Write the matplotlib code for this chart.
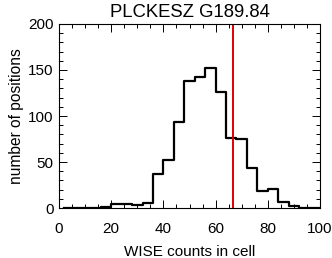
import numpy as np
import matplotlib
matplotlib.use("Agg")
import matplotlib.pyplot as plt
from matplotlib.ticker import MultipleLocator

# ==== данные ==== #
bin_width = 4
bin_centers = np.arange(2, 100, bin_width)          # 2, 6, ..., 98
counts = [0, 0, 0, 0, 1, 4, 4, 3, 5, 37, 52, 93, 138,
          142, 152, 126, 76, 75, 43, 18, 21, 7, 2, 0, 0]
red_line_x = 66.8
title = "PLCKESZ G189.84"

plt.rcParams["font.family"] = ["Liberation Sans", "DejaVu Sans"]

fig = plt.figure(figsize=(3.32, 2.58), dpi=100)
ax = fig.add_axes([59 / 332, 50 / 258, 261 / 332, 184 / 258])

# гистограмма в стиле IDL psym=10: от первого центра до края
x = np.r_[bin_centers, 100]
y = np.r_[counts, counts[-1]]
ax.step(x, y, where="mid", color="black", lw=1.6)
ax.axvline(red_line_x, color="#e00000", lw=1.4)

ax.set_xlim(0, 100)
ax.set_ylim(0, 200)
ax.xaxis.set_major_locator(MultipleLocator(20))
ax.xaxis.set_minor_locator(MultipleLocator(5))
ax.yaxis.set_major_locator(MultipleLocator(50))
ax.yaxis.set_minor_locator(MultipleLocator(10))
ax.tick_params(which="both", direction="in", top=True, right=True,
               width=0.7, labelsize=11)
ax.tick_params(which="major", length=6)
ax.tick_params(which="minor", length=3)
ax.tick_params(axis="x", which="major", pad=10)
ax.tick_params(axis="y", which="major", pad=4)
for s in ax.spines.values():
    s.set_linewidth(0.8)

ax.set_xlabel("WISE counts in cell", fontsize=11, labelpad=6.5)
ax.set_ylabel("number of positions", fontsize=11.2, labelpad=3)
ax.set_title(title, fontsize=13.3, pad=5)

fig.savefig("out.png", dpi=100)
